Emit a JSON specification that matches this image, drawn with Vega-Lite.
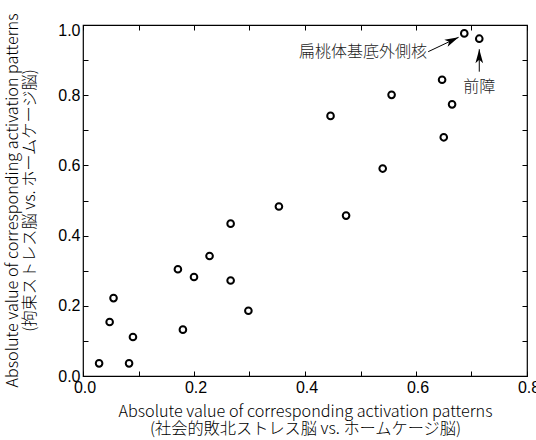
{
  "$schema": "https://vega.github.io/schema/vega-lite/v6.json",
  "width": 444,
  "height": 351,
  "autosize": {"type": "none"},
  "padding": {"left": 83, "top": 25, "right": 9, "bottom": 64},
  "config": {
    "view": {"stroke": "#000", "strokeWidth": 1.2},
    "axis": {
      "domain": false, "grid": false, "ticks": true, "tickColor": "#000", "tickSize": -5, "tickWidth": 1,
      "labelFont": "Liberation Sans", "labelFontSize": 16, "labelColor": "#000",
      "titleFont": "Noto Sans CJK JP", "titleFontSize": 16.2, "titleFontWeight": 300, "titleColor": "#000",
      "titleLineHeight": 17, "labelFlush": false, "labelOverlap": false, "labelBound": false
    }
  },
  "datasets": {
    "points": [
      {"x": 0.029, "y": 0.036}, {"x": 0.083, "y": 0.036}, {"x": 0.048, "y": 0.154}, {"x": 0.055, "y": 0.222},
      {"x": 0.090, "y": 0.111}, {"x": 0.171, "y": 0.304}, {"x": 0.180, "y": 0.132}, {"x": 0.200, "y": 0.282},
      {"x": 0.228, "y": 0.342}, {"x": 0.266, "y": 0.434}, {"x": 0.266, "y": 0.272}, {"x": 0.298, "y": 0.186},
      {"x": 0.353, "y": 0.483}, {"x": 0.446, "y": 0.741}, {"x": 0.474, "y": 0.457}, {"x": 0.540, "y": 0.591},
      {"x": 0.556, "y": 0.801}, {"x": 0.647, "y": 0.844}, {"x": 0.650, "y": 0.680}, {"x": 0.665, "y": 0.774},
      {"x": 0.687, "y": 0.976}, {"x": 0.714, "y": 0.961}
    ],
    "annotations": [
      {"label": "扁桃体基底外側核", "x": 0.6198, "y": 0.9245, "x1": 0.622, "y1": 0.924, "x2": 0.6768, "y2": 0.965},
      {"label": "前障", "x": 0.714, "y": 0.824, "x1": 0.714, "y1": 0.867, "x2": 0.714, "y2": 0.931}
    ]
  },
  "layer": [
    {
      "data": {"name": "points"},
      "mark": {"type": "point", "shape": "circle", "filled": false, "stroke": "#000", "strokeWidth": 2, "size": 44, "opacity": 1},
      "encoding": {
        "x": {
          "field": "x", "type": "quantitative",
          "scale": {"domain": [0, 0.8], "nice": false, "zero": false},
          "axis": {
            "orient": "bottom",
            "values": [0, 0.1, 0.2, 0.3, 0.4, 0.5, 0.6, 0.7, 0.8],
            "labelExpr": "round(datum.value * 10) % 2 == 0 ? format(datum.value, '.1f') : ''",
            "labelFont": "Liberation Sans", "labelFontSize": 16,
            "labelPadding": 8, "labelOffset": 1.5,
            "title": ["Absolute value of corresponding activation patterns", "(社会的敗北ストレス脳 vs. ホームケージ脳)"],
            "titleX": 222, "titleY": 40.5, "titleBaseline": "alphabetic", "titleAlign": "center"
          }
        },
        "y": {
          "field": "y", "type": "quantitative",
          "scale": {"domain": [0, 1], "nice": false, "zero": false},
          "axis": {
            "orient": "left",
            "values": [0, 0.1, 0.2, 0.3, 0.4, 0.5, 0.6, 0.7, 0.8, 0.9, 1.0],
            "labelExpr": "round(datum.value * 10) % 2 == 0 ? format(datum.value, '.1f') : ''",
            "labelFont": "Liberation Sans", "labelFontSize": 16,
            "labelPadding": 8,
            "labelOffset": {"condition": {"test": "datum.value > 0.95", "value": 5}, "value": 0},
            "title": ["Absolute value of corresponding activation patterns", "(拘束ストレス脳 vs. ホームケージ脳)"],
            "titleX": -66, "titleY": 175, "titleBaseline": "alphabetic", "titleAlign": "center", "titleAngle": -90
          }
        }
      }
    },
    {
      "data": {"name": "points"},
      "mark": {"type": "point", "opacity": 0},
      "encoding": {
        "x": {
          "field": "x", "type": "quantitative",
          "axis": {"orient": "top", "values": [0, 0.1, 0.2, 0.3, 0.4, 0.5, 0.6, 0.7, 0.8], "labels": false, "title": null}
        },
        "y": {
          "field": "y", "type": "quantitative",
          "axis": {"orient": "right", "values": [0, 0.1, 0.2, 0.3, 0.4, 0.5, 0.6, 0.7, 0.8, 0.9, 1.0], "labels": false, "title": null}
        }
      }
    },
    {
      "data": {"name": "annotations"},
      "mark": {"type": "rule", "stroke": "#000", "strokeWidth": 1},
      "encoding": {
        "x": {"field": "x1", "type": "quantitative", "axis": null},
        "y": {"field": "y1", "type": "quantitative", "axis": null},
        "x2": {"field": "x2"},
        "y2": {"field": "y2"}
      }
    },
    {
      "data": {"name": "annotations"},
      "transform": [{"filter": "datum.label == '扁桃体基底外側核'"}],
      "mark": {"type": "point", "shape": "M0,0 L0.55,2 L0,1.5 L-0.55,2 Z", "filled": true, "fill": "#000", "stroke": null, "size": 196, "angle": 64.6, "opacity": 1},
      "encoding": {
        "x": {"field": "x2", "type": "quantitative", "axis": null},
        "y": {"field": "y2", "type": "quantitative", "axis": null}
      }
    },
    {
      "data": {"name": "annotations"},
      "transform": [{"filter": "datum.label == '前障'"}],
      "mark": {"type": "point", "shape": "M0,0 L0.55,2 L0,1.5 L-0.55,2 Z", "filled": true, "fill": "#000", "stroke": null, "size": 196, "angle": 0, "opacity": 1},
      "encoding": {
        "x": {"field": "x2", "type": "quantitative", "axis": null},
        "y": {"field": "y2", "type": "quantitative", "axis": null}
      }
    },
    {
      "data": {"name": "annotations"},
      "transform": [{"filter": "datum.label == '扁桃体基底外側核'"}],
      "mark": {"type": "text", "align": "right", "baseline": "middle", "font": "Noto Sans CJK JP", "fontSize": 16, "fontWeight": 300, "color": "#222"},
      "encoding": {
        "x": {"field": "x", "type": "quantitative", "axis": null},
        "y": {"field": "y", "type": "quantitative", "axis": null},
        "text": {"field": "label"}
      }
    },
    {
      "data": {"name": "annotations"},
      "transform": [{"filter": "datum.label == '前障'"}],
      "mark": {"type": "text", "align": "center", "baseline": "middle", "font": "Noto Sans CJK JP", "fontSize": 16, "fontWeight": 300, "color": "#222"},
      "encoding": {
        "x": {"field": "x", "type": "quantitative", "axis": null},
        "y": {"field": "y", "type": "quantitative", "axis": null},
        "text": {"field": "label"}
      }
    }
  ],
  "resolve": {"axis": {"x": "independent", "y": "independent"}}
}
